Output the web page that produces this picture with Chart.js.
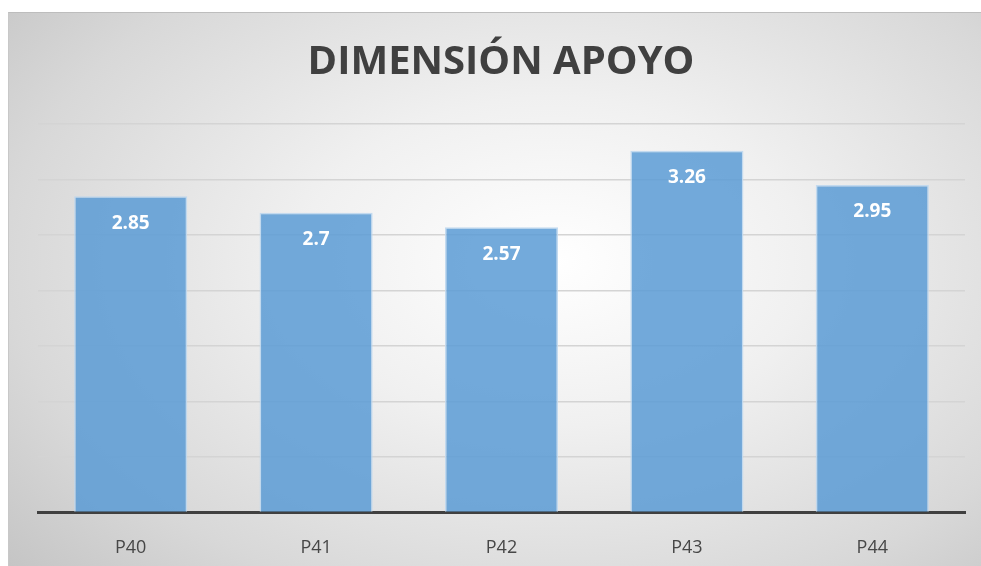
<!DOCTYPE html>
<html>
<head>
<meta charset="utf-8">
<script src="https://cdn.jsdelivr.net/npm/chart.js@4/dist/chart.umd.min.js"></script>
<style>
  html, body { margin: 0; padding: 0; background: #fff; }
  #frame {
    position: absolute; left: 8px; top: 12px; width: 973px; height: 554px;
    background: radial-gradient(ellipse 75% 85% at 56% 45%, #ffffff 0%, #f0f0f0 35%, #d8d8d8 75%, #c4c4c4 100%);
    border-top: 1px solid #bdbdbd; border-left: 1px solid #c8c8c8;
    box-sizing: border-box;
  }
  #wrap { position: absolute; left: 0; top: 0; width: 981px; height: 566px; }
</style>
</head>
<body>
<div id="frame"></div>
<div id="wrap"><canvas id="myChart" width="981" height="566"></canvas></div>
<script>
const chartTitle = "DIMENSIÓN APOYO";
const categories = ["P40", "P41", "P42", "P43", "P44"];
const values = [2.85, 2.7, 2.57, 3.26, 2.95];

// title + value labels drawn by hand
const extras = {
  id: "extras",
  afterDatasetsDraw(chart) {
    const ctx = chart.ctx;
    ctx.save();
    ctx.textAlign = "center";
    ctx.textBaseline = "middle";
    ctx.fillStyle = "#404040";
    ctx.font = "bold 40px 'Open Sans'";
    ctx.fillText(chartTitle, 501, 63);

    ctx.fillStyle = "#ffffff";
    ctx.font = "bold 19px 'Open Sans'";
    const meta = chart.getDatasetMeta(0);
    meta.data.forEach((bar, i) => {
      ctx.fillText(String(values[i]), bar.x, bar.y + 27);
    });
    ctx.restore();
  }
};

const config = {
  type: "bar",
  data: {
    labels: categories,
    datasets: [
      {
        data: values,
        backgroundColor: "rgba(91, 155, 213, 0.85)",
        borderColor: "rgba(190, 215, 238, 0.9)",
        borderWidth: 1.5,
        barPercentage: 0.61,
        categoryPercentage: 1
      }
    ]
  },
  options: {
    responsive: false,
    animation: false,
    layout: {
      padding: { top: 124, left: 38, right: 16, bottom: -10 }
    },
    plugins: {
      legend: { display: false },
      title: { display: false },
      tooltip: { enabled: false }
    },
    scales: {
      x: {
        grid: { display: false },
        border: { color: "#404040", width: 3 },
        ticks: {
          color: "#474747",
          font: { family: "'Open Sans'", size: 18 },
          padding: 17
        }
      },
      y: {
        min: 0,
        max: 3.5,
        ticks: { display: false, stepSize: 0.5 },
        grid: { color: "#d4d4d4", lineWidth: 1.5, drawTicks: false },
        border: { display: false }
      }
    }
  },
  plugins: [extras]
};

new Chart(document.getElementById("myChart").getContext("2d"), config);
</script>
</body>
</html>
